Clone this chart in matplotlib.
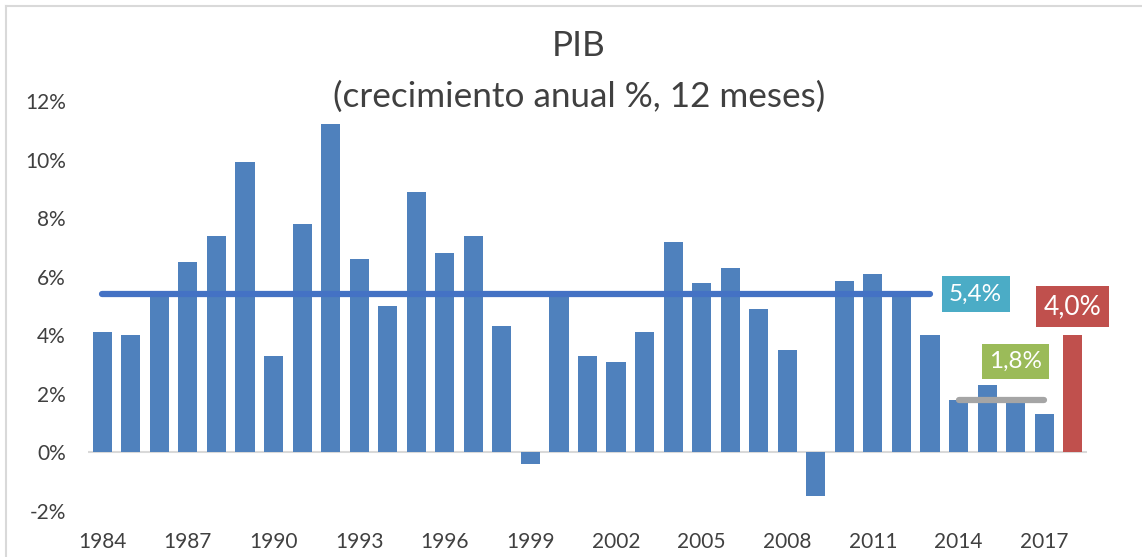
import matplotlib
matplotlib.use("Agg")
import matplotlib.pyplot as plt
from matplotlib.lines import Line2D
import numpy as np

plt.rcParams['font.family'] = ['Lato', 'DejaVu Sans']

# data
years = list(range(1984, 2019))
pib = [4.1, 4.0, 5.3, 6.5, 7.4, 9.9, 3.3, 7.8, 11.2, 6.6,
       5.0, 8.9, 6.8, 7.4, 4.3, -0.4, 5.3, 3.3, 3.1, 4.1,
       7.2, 5.8, 6.3, 4.9, 3.5, -1.5, 5.85, 6.1, 5.3, 4.0,
       1.8, 2.3, 1.7, 1.3, 4.0]
avg_long = 5.4      # promedio 1984-2013
avg_recent = 1.8    # promedio 2014-2017
proj_2018 = 4.0
yticks = [-2, 0, 2, 4, 6, 8, 10, 12]
xtick_years = list(range(1984, 2018, 3))

blue = '#4F81BD'
red = '#C0504D'
txt = '#404040'

fig = plt.figure(figsize=(11.42, 5.57), dpi=100)
ax = fig.add_axes([0.0771, 0.0826, 0.8747, 0.7361])

colors = [blue] * (len(years) - 1) + [red]
ax.bar(years, pib, width=0.67, color=colors, edgecolor='none', zorder=2)
ax.axhline(0, color='#D9D9D9', lw=1.5, zorder=1)

# promedios
ax.plot([1984, 2013], [avg_long, avg_long], color='#4472C4', lw=4.5,
        solid_capstyle='round', zorder=3)
ax.plot([2014, 2017], [avg_recent, avg_recent], color='#A5A5A5', lw=4.5,
        solid_capstyle='round', zorder=3)

def box(x, y, s, fc, size):
    ax.text(x, y, s, color='white', fontsize=size, ha='center', va='center',
            zorder=4, bbox=dict(boxstyle='square,pad=0.3', fc=fc, ec='none'))

box(2014.6, avg_long, '5,4%', '#4BACC6', 17.5)
box(2016.0, 3.1, '1,8%', '#9BBB59', 17.5)
box(2018.0, 4.98, '4,0%', red, 19)

ax.set_xlim(1983.5, 2018.5)
ax.set_ylim(-2, 12)
ax.set_yticks(yticks)
ax.set_yticklabels([f'{v}%' for v in yticks])
ax.set_xticks(xtick_years)
ax.set_xticklabels([str(y) for y in xtick_years])
ax.tick_params(axis='y', length=0, pad=16, labelsize=15, labelcolor=txt)
ax.tick_params(axis='x', length=0, pad=15, labelsize=15, labelcolor=txt)
for s in ax.spines.values():
    s.set_visible(False)

fig.text(0.507, 0.917, 'PIB', ha='center', va='center', fontsize=25.3, color=txt)
fig.text(0.507, 0.826, '(crecimiento anual %, 12 meses)', ha='center',
         va='center', fontsize=25.3, color=txt)

# borde del area del grafico
fig.add_artist(Line2D([6 / 1142, 1], [1 - 6 / 557, 1 - 6 / 557],
                      transform=fig.transFigure, color='#D9D9D9', lw=1.5))
fig.add_artist(Line2D([6 / 1142, 6 / 1142], [0, 1 - 6 / 557],
                      transform=fig.transFigure, color='#D9D9D9', lw=1.5))

fig.savefig('out.png', dpi=100)
